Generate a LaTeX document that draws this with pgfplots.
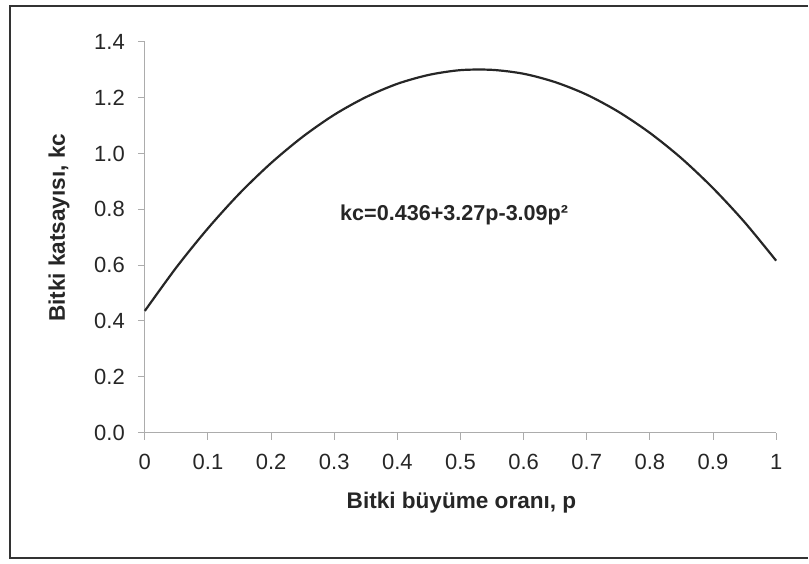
\documentclass[border=0pt]{standalone}
\usepackage{pgfplots}
\pgfplotsset{compat=1.18}
\usepackage{fontspec}
\setmainfont{Liberation Sans}

% okunan degerler: kc = 0.436 + 3.27p - 3.09p^2
\begin{document}
\begin{tikzpicture}
    \path (0pt,0pt) rectangle (404.5pt,282pt);
    \draw[line width=0.9pt, black!80] (404.5pt,279pt) -- (5pt,279pt) -- (5pt,2.5pt) -- (404.5pt,2.5pt);
    \begin{axis}[
        at={(72.5pt,65.5pt)}, anchor=south west,
        scale only axis, width=316pt, height=195.5pt,
        xmin=0, xmax=1, ymin=0, ymax=1.4,
        axis x line=bottom, axis y line=left,
        axis line style={gray!65, line width=0.6pt, -},
        xtick={0,0.1,...,1.0},
        xticklabels={0,0.1,0.2,0.3,0.4,0.5,0.6,0.7,0.8,0.9,1},
        ytick={0,0.2,...,1.4},
        yticklabels={0.0,0.2,0.4,0.6,0.8,1.0,1.2,1.4},
        tick align=outside, major tick length=3.5pt,
        tick style={gray!65, line width=0.5pt},
        ticklabel style={font=\fontsize{11}{13}\selectfont, text=black!85},
        xticklabel style={yshift=-4pt},
        yticklabel style={xshift=-3pt},
        xlabel={\bfseries Bitki büyüme oranı, p},
        ylabel={\bfseries Bitki katsayısı, kc},
        label style={font=\fontsize{11.3}{13}\selectfont, text=black!85},
        xlabel style={at={(axis description cs:0.5016,-0.179)}, anchor=center},
        ylabel style={at={(axis description cs:-0.136,0.524)}, anchor=center},
        clip=false,
    ]
    \addplot[black!85, line width=1.1pt, smooth] coordinates {
        (0.00,0.436) (0.05,0.592) (0.10,0.732) (0.15,0.857) (0.20,0.966)
        (0.25,1.060) (0.30,1.139) (0.35,1.202) (0.40,1.250) (0.45,1.282)
        (0.50,1.299) (0.55,1.300) (0.60,1.286) (0.65,1.256) (0.70,1.211)
        (0.75,1.150) (0.80,1.074) (0.85,0.983) (0.90,0.876) (0.95,0.754)
        (1.00,0.616)
    };
    \node[font=\fontsize{10.8}{13}\selectfont\bfseries, text=black!85]
        at (axis cs:0.49,0.78) {kc=0.436+3.27p-3.09p²};
    \end{axis}
\end{tikzpicture}
\end{document}
